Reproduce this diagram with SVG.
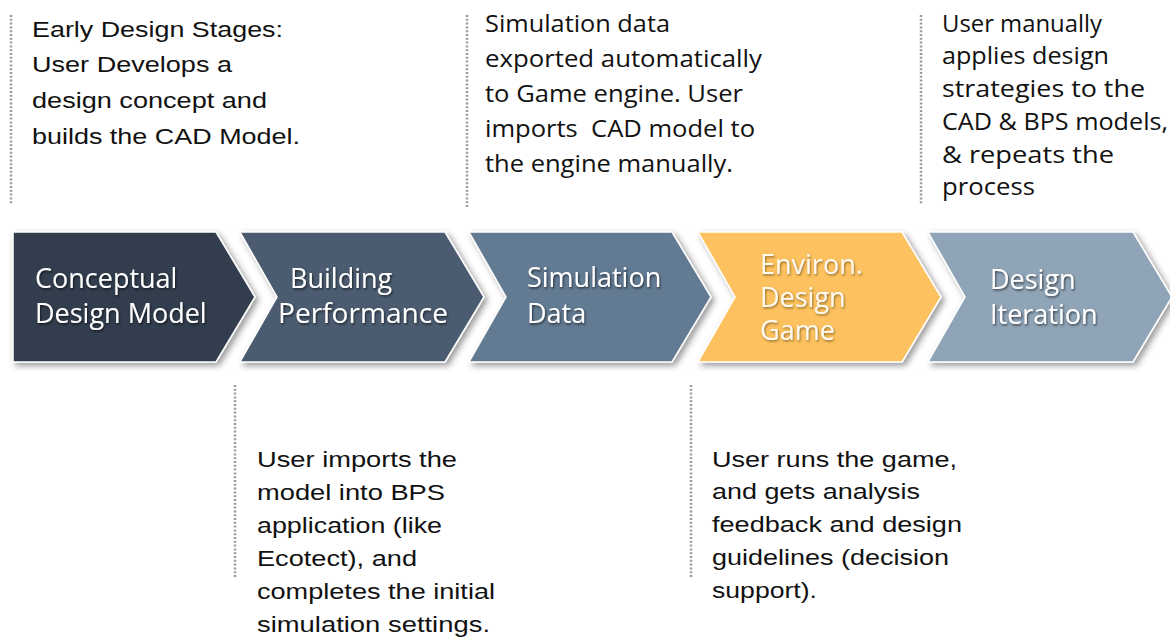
<svg xmlns="http://www.w3.org/2000/svg" width="1170" height="637" viewBox="0 0 1170 637">
  <defs>
    <filter id="shadow" x="-10%" y="-10%" width="130%" height="130%">
      <feDropShadow dx="3" dy="3" stdDeviation="3" flood-color="#000" flood-opacity="0.4"/>
    </filter>
    <filter id="tshadow" x="-10%" y="-20%" width="130%" height="150%">
      <feDropShadow dx="1" dy="1.5" stdDeviation="1" flood-color="#000" flood-opacity="0.6"/>
    </filter>
    <filter id="tshadowY" x="-10%" y="-20%" width="130%" height="150%">
      <feDropShadow dx="1" dy="1.5" stdDeviation="0.8" flood-color="#7a5a20" flood-opacity="0.8"/>
    </filter>
  </defs>
  <style>
    .chev { stroke: #ffffff; stroke-width: 1.5; stroke-linejoin: miter; filter: url(#shadow); }
    .lbl { font-family: "Open Sans", "Liberation Sans", sans-serif; font-size: 27px; fill: #ffffff; filter: url(#tshadow); }
    .lblY { font-family: "Open Sans", "Liberation Sans", sans-serif; font-size: 27px; fill: #fffaf0; filter: url(#tshadowY); }
    .arial { font-family: "Liberation Sans", Arial, sans-serif; font-size: 22px; fill: #111111; }
    .cal { font-family: "Open Sans", "Liberation Sans", sans-serif; font-size: 24px; fill: #111111; }
    .dots { stroke: #9a9a9a; stroke-width: 2.5; stroke-dasharray: 2 1.8; fill: none; }
  </style>
  <rect width="1170" height="637" fill="#ffffff"/>

  <g id="connectors">
    <line class="dots" x1="11" y1="15" x2="11" y2="205"/>
    <line class="dots" x1="467" y1="15" x2="467" y2="207"/>
    <line class="dots" x1="921" y1="15" x2="921" y2="205"/>
    <line class="dots" x1="235" y1="385" x2="235" y2="578"/>
    <line class="dots" x1="691" y1="385" x2="691" y2="578"/>
  </g>

  <g id="node-conceptual">
    <path class="chev" fill="#323e4e" d="M13,232 L216,232 L255,297 L216,362 L13,362 Z"/>
    <text class="lbl" x="35" y="288">Conceptual</text>
    <text class="lbl" x="35" y="323">Design Model</text>
  </g>
  <g id="node-building">
    <path class="chev" fill="#4b5b6f" d="M240,232 L445,232 L484,297 L445,362 L240,362 L277,297 Z"/>
    <text class="lbl" x="290" y="288">Building</text>
    <text class="lbl" x="278" y="323" textLength="170" lengthAdjust="spacingAndGlyphs">Performance</text>
  </g>
  <g id="node-simulation">
    <path class="chev" fill="#627a92" d="M469,232 L672,232 L711,297 L672,362 L469,362 L506,297 Z"/>
    <text class="lbl" x="527" y="287">Simulation</text>
    <text class="lbl" x="527" y="323">Data</text>
  </g>
  <g id="node-game">
    <path class="chev" fill="#fdc25e" d="M698,232 L902,232 L941,297 L902,362 L698,362 L735,297 Z"/>
    <text class="lblY" x="760" y="274">Environ.</text>
    <text class="lblY" x="760" y="307">Design</text>
    <text class="lblY" x="760" y="340">Game</text>
  </g>
  <g id="node-iteration">
    <path class="chev" fill="#8fa4b6" d="M928,232 L1133,232 L1172,297 L1133,362 L928,362 L965,297 Z"/>
    <text class="lbl" x="990" y="289">Design</text>
    <text class="lbl" x="990" y="324">Iteration</text>
  </g>

  <g id="note-early">
    <text class="arial" x="32" y="37" textLength="251" lengthAdjust="spacingAndGlyphs">Early Design Stages:</text>
    <text class="arial" x="32" y="72" textLength="200" lengthAdjust="spacingAndGlyphs">User Develops a</text>
    <text class="arial" x="32" y="108" textLength="235" lengthAdjust="spacingAndGlyphs">design concept and</text>
    <text class="arial" x="32" y="144" textLength="268" lengthAdjust="spacingAndGlyphs">builds the CAD Model.</text>
  </g>

  <g id="note-simdata">
    <text class="cal" x="485" y="32" textLength="185" lengthAdjust="spacingAndGlyphs">Simulation data</text>
    <text class="cal" x="485" y="67" textLength="277" lengthAdjust="spacingAndGlyphs">exported automatically</text>
    <text class="cal" x="485" y="102" textLength="258" lengthAdjust="spacingAndGlyphs">to Game engine. User</text>
    <text class="cal" x="485" y="137" textLength="270" lengthAdjust="spacingAndGlyphs" xml:space="preserve">imports  CAD model to</text>
    <text class="cal" x="485" y="172" textLength="248" lengthAdjust="spacingAndGlyphs">the engine manually.</text>
  </g>

  <g id="note-iteration">
    <text class="cal" x="942" y="32" textLength="160" lengthAdjust="spacingAndGlyphs">User manually</text>
    <text class="cal" x="942" y="64" textLength="167" lengthAdjust="spacingAndGlyphs">applies design</text>
    <text class="cal" x="942" y="97" textLength="203" lengthAdjust="spacingAndGlyphs">strategies to the</text>
    <text class="cal" x="942" y="130" textLength="226" lengthAdjust="spacingAndGlyphs">CAD &amp; BPS models,</text>
    <text class="cal" x="942" y="163" textLength="172" lengthAdjust="spacingAndGlyphs">&amp; repeats the</text>
    <text class="cal" x="942" y="195" textLength="93" lengthAdjust="spacingAndGlyphs">process</text>
  </g>

  <g id="note-bps">
    <text class="arial" x="257" y="467" textLength="200" lengthAdjust="spacingAndGlyphs">User imports the</text>
    <text class="arial" x="257" y="500" textLength="188" lengthAdjust="spacingAndGlyphs">model into BPS</text>
    <text class="arial" x="257" y="533" textLength="185" lengthAdjust="spacingAndGlyphs">application (like</text>
    <text class="arial" x="257" y="566" textLength="160" lengthAdjust="spacingAndGlyphs">Ecotect), and</text>
    <text class="arial" x="257" y="599" textLength="238" lengthAdjust="spacingAndGlyphs">completes the initial</text>
    <text class="arial" x="257" y="632" textLength="233" lengthAdjust="spacingAndGlyphs">simulation settings.</text>
  </g>

  <g id="note-game">
    <text class="arial" x="712" y="467" textLength="245" lengthAdjust="spacingAndGlyphs">User runs the game,</text>
    <text class="arial" x="712" y="499" textLength="208" lengthAdjust="spacingAndGlyphs">and gets analysis</text>
    <text class="arial" x="712" y="532" textLength="250" lengthAdjust="spacingAndGlyphs">feedback and design</text>
    <text class="arial" x="712" y="565" textLength="237" lengthAdjust="spacingAndGlyphs">guidelines (decision</text>
    <text class="arial" x="712" y="598" textLength="105" lengthAdjust="spacingAndGlyphs">support).</text>
  </g>
</svg>
